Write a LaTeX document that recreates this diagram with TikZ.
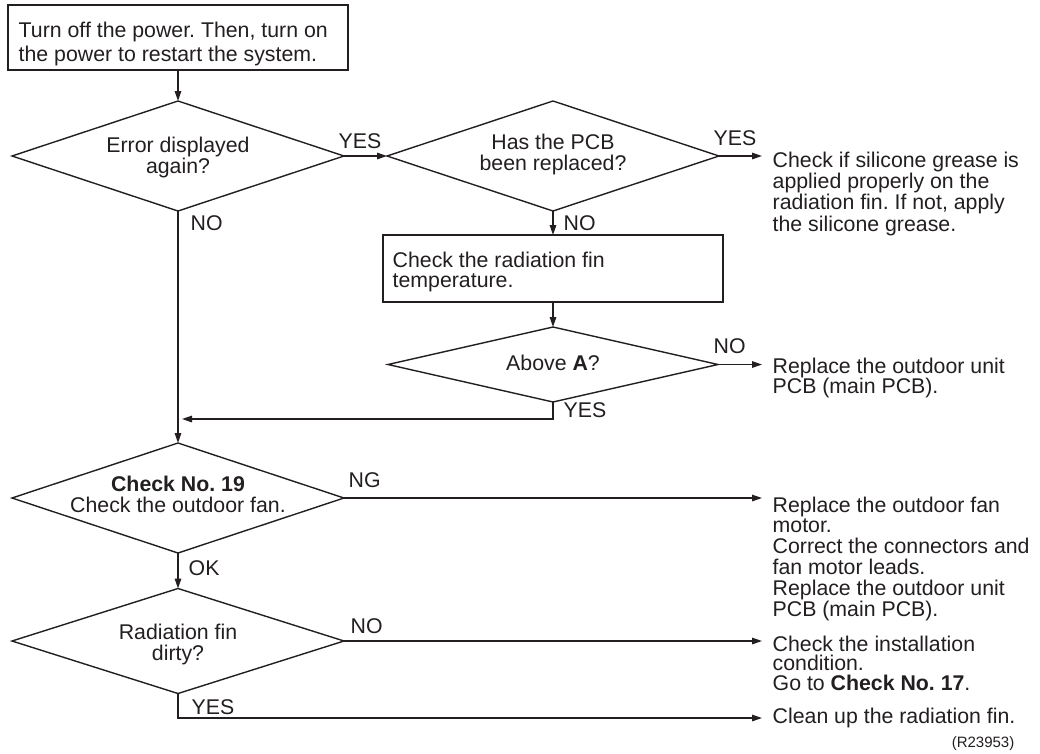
\documentclass[tikz,border=0pt]{standalone}
\usepackage{fontspec}
\setmainfont{Liberation Sans}
\usetikzlibrary{shapes.geometric,arrows.meta}
\definecolor{ink}{RGB}{35,31,32}
\begin{document}
\frenchspacing
\begin{tikzpicture}[x=1pt,y=-1pt, line width=1.4pt, draw=ink,
  arr/.style={-{Triangle[length=10pt,width=6.5pt]}},
  dia/.style n args={2}{diamond, draw=ink, inner sep=0pt, outer sep=0pt, minimum width=#1, minimum height=#2},
  boxst/.style={draw=ink, inner sep=0pt, outer sep=0pt, anchor=north west},
  txt/.style={align=left, inner sep=0pt, text=ink, anchor=base west, font=\fontsize{21.3}{#1}\selectfont},
  txt/.default=21,
  ctxt/.style={align=center, inner sep=0pt, text=ink, anchor=base, font=\fontsize{21.3}{21}\selectfont},
  lab/.style={inner sep=0pt, text=ink, anchor=base west, font=\fontsize{21.3}{21}\selectfont}
]
\fill[white] (0,0) rectangle (1040,753);
\useasboundingbox (0,0) rectangle (1040,753);

% boxes and diamonds (multi-line text nodes are anchored at their last baseline)
\node[boxst, minimum width=340pt, minimum height=65pt] (start) at (8,5) {};
\node[txt=23.5] (starttxt) at (18,61) {Turn off the power. Then, turn on\\the power to restart the system.};

\node[dia={332pt}{110pt}] (d1) at (178,156) {};
\node[ctxt] (d1t) at (178,173) {Error displayed\\again?};

\node[dia={332pt}{110pt}] (d2) at (553,156) {};
\node[ctxt] (d2t) at (553,170) {Has the PCB\\been replaced?};

\node[boxst, minimum width=340pt, minimum height=67pt] (b2) at (383,235) {};
\node[txt=20] (b2t) at (392,287) {Check the radiation fin\\temperature.};

\node[dia={330pt}{75pt}] (d3) at (553,364.5) {};
\node[ctxt] (d3t) at (553,370) {Above \textbf{A}?};

\node[dia={332pt}{110pt}] (d4) at (178,498) {};
\node[ctxt] (d4t) at (178,512) {\textbf{Check No. 19}\\Check the outdoor fan.};

\node[dia={332pt}{105pt}] (d5) at (178,641) {};
\node[ctxt] (d5t) at (178,660) {Radiation fin\\dirty?};

% result texts
\node[txt=21.3] (t1) at (772,231) {Check if silicone grease is\\applied properly on the\\radiation fin. If not, apply\\the silicone grease.};
\node[txt=20] (t2) at (772,393) {Replace the outdoor unit\\PCB (main PCB).};
\node[txt=20.8] (t3) at (772,616) {Replace the outdoor fan\\motor.\\Correct the connectors and\\fan motor leads.\\Replace the outdoor unit\\PCB (main PCB).};
\node[txt=19.2] (t4) at (772,690) {Check the installation\\condition.\\Go to \textbf{Check No. 17}.};
\node[txt, anchor=west] (t5) at (772,718) {Clean up the radiation fin.};
\node[inner sep=0pt, text=ink, anchor=base east, font=\fontsize{15}{15}\selectfont] (ref) at (1015,747) {(R23953)};

% labels
\node[lab] (l1) at (338,148) {YES};
\node[lab] (l2) at (713,145) {YES};
\node[lab] (l3) at (563,230) {NO};
\node[lab] (l4) at (190,230) {NO};
\node[lab] (l5) at (713,353) {NO};
\node[lab] (l6) at (563,417) {YES};
\node[lab] (l7) at (348,487) {NG};
\node[lab] (l8) at (188,575) {OK};
\node[lab] (l9) at (350,633) {NO};
\node[lab] (l10) at (191,714) {YES};

% connectors
\coordinate (j) at (182,419);
\draw[arr] (start.south) -- (d1.north);
\draw[arr] (d1.east) -- (d2.west);
\draw[arr, shorten >=10pt] (d2.east) -- (d2.east -| t1.west);
\draw[arr] (d2.south) -- (b2.north);
\draw[arr] (b2.south) -- (d3.north);
\draw[arr, shorten >=10pt] (d3.east) -- (d3.east -| t2.west);
\draw[arr] (d3.south) |- (j);
\draw[arr] (d1.south) -- (d4.north);
\draw[arr, shorten >=10pt] (d4.east) -- (d4.east -| t3.west);
\draw[arr] (d4.south) -- (d5.north);
\draw[arr, shorten >=10pt] (d5.east) -- (d5.east -| t4.west);
\draw[arr, shorten >=10pt] (d5.south) |- (t5.west);
\end{tikzpicture}
\end{document}
